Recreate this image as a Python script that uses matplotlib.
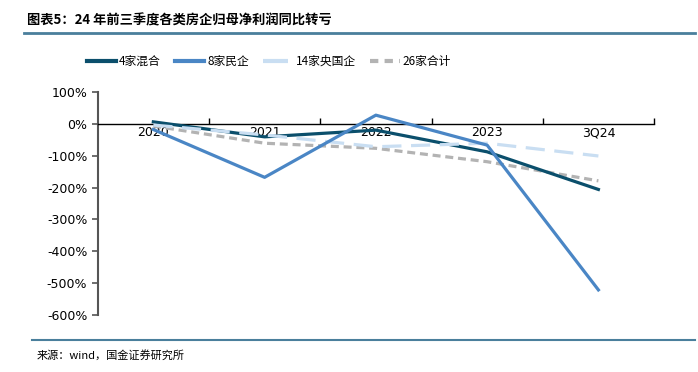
import numpy as np
import matplotlib
matplotlib.use("Agg")
import matplotlib.pyplot as plt
from matplotlib.lines import Line2D

plt.rcParams['font.family'] = ['Noto Sans CJK SC', 'DejaVu Sans']

# data (%)
categories = ["2020", "2021", "2022", "2023", "3Q24"]
mixed_4 = [6, -41, -20, -88, -206]
private_8 = [-18, -168, 27, -67, -521]
state_14 = [-4, -35, -72, -61, -101]
total_26 = [-7, -61, -77, -119, -179]
yticks = [100, 0, -100, -200, -300, -400, -500, -600]

title = "图表5：24 年前三季度各类房企归母净利润同比转亏"
source = "来源：wind，国金证券研究所"

fig = plt.figure(figsize=(6.98, 3.72), dpi=100)
ax = fig.add_axes([0.14, 0.153, 0.797, 0.600])

x = np.arange(len(categories)) + 0.5
ax.plot(x, total_26, color="#b3b3b3", lw=2.3, dashes=(2.5, 1.5), label="26家合计", zorder=2)
ax.plot(x, mixed_4, color="#0b4f6c", lw=2.3, label="4家混合", zorder=3)
ax.plot(x, state_14, color="#c9def2", lw=2.3, dashes=(6, 3), label="14家央国企", zorder=4)
ax.plot(x, private_8, color="#4a86c5", lw=2.3, label="8家民企", zorder=5)

ax.set_xlim(0, len(categories))
ax.set_ylim(-600, 100)
ax.set_yticks(yticks)
ax.set_yticklabels([f"{v}%" for v in yticks], fontsize=9, family=['DejaVu Sans'])

# x-axis drawn on the zero line with ticks between categories pointing up
ax.spines['top'].set_visible(False)
ax.spines['right'].set_visible(False)
ax.spines['bottom'].set_position(('data', 0))
ax.spines['bottom'].set_color('black')
ax.spines['bottom'].set_linewidth(1.0)
ax.spines['left'].set_color('#555555')
ax.spines['left'].set_linewidth(1.5)
ax.set_xticks(np.arange(1, len(categories) + 1))
ax.set_xticklabels([])
ax.tick_params(axis='x', direction='in', length=4, width=1)
ax.tick_params(axis='y', direction='out', length=4, width=1.2, color='#555555')
for xi, lab in zip(x, categories):
    ax.text(xi, -8, lab, ha='center', va='top', fontsize=9, family=['DejaVu Sans'], zorder=1)

handles = [Line2D([], [], color="#0b4f6c", lw=3),
           Line2D([], [], color="#4a86c5", lw=3),
           Line2D([], [], color="#c9def2", lw=3, dashes=(6, 3)),
           Line2D([], [], color="#b3b3b3", lw=3, dashes=(2, 1.5))]
fig.legend(handles, ["4家混合", "8家民企", "14家央国企", "26家合计"],
           loc='center', bbox_to_anchor=(0.385, 0.835), ncol=4, frameon=False,
           fontsize=8.5, handlelength=2.5, columnspacing=1.2, handletextpad=0.25)

fig.text(0.039, 0.945, title, fontsize=9.5, fontweight='bold', ha='left', va='center')
fig.add_artist(Line2D([0.034, 0.995], [0.910, 0.910], color="#4a7f9c", lw=2))
fig.add_artist(Line2D([0.046, 0.995], [0.086, 0.086], color="#4a7f9c", lw=1.5))
fig.text(0.052, 0.045, source, fontsize=8, ha='left', va='center')

fig.savefig("out.png", dpi=100)
